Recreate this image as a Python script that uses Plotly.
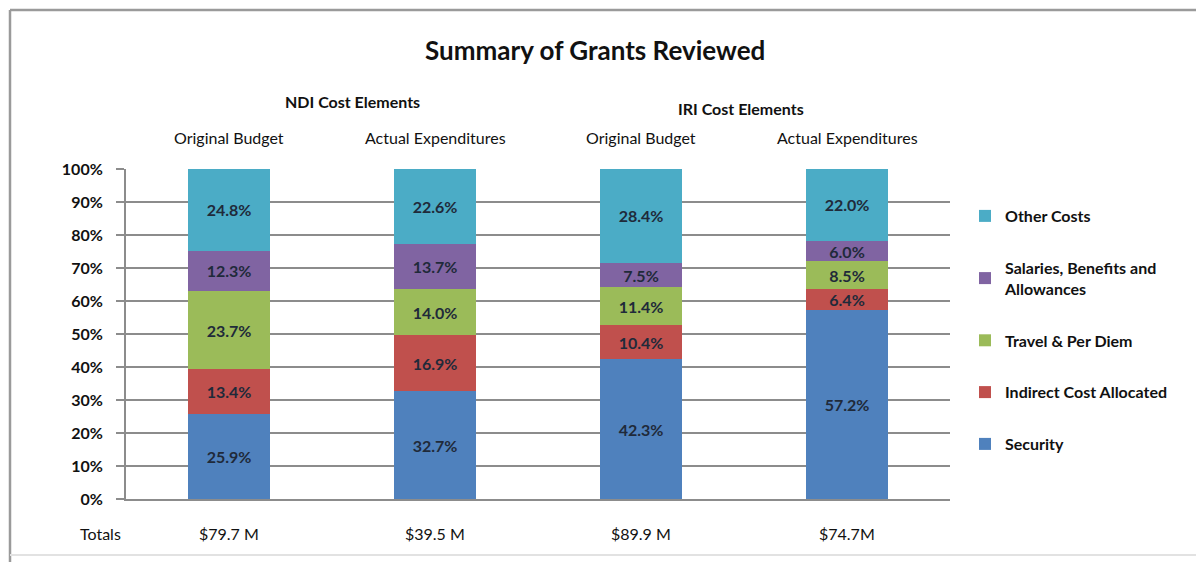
import plotly.graph_objects as go

categories = ["NDI Original Budget", "NDI Actual Expenditures", "IRI Original Budget", "IRI Actual Expenditures"]
cat_labels = ["Original Budget", "Actual Expenditures", "Original Budget", "Actual Expenditures"]
totals = ["$79.7 M", "$39.5 M", "$89.9 M", "$74.7M"]

security = [25.9, 32.7, 42.3, 57.2]
indirect = [13.4, 16.9, 10.4, 6.4]
travel = [23.7, 14.0, 11.4, 8.5]
salaries = [12.3, 13.7, 7.5, 6.0]
other = [24.8, 22.6, 28.4, 22.0]

series = [
    ("Security", security, "#4F81BD"),
    ("Indirect Cost Allocated", indirect, "#C0504D"),
    ("Travel & Per Diem", travel, "#9BBB59"),
    ("Salaries, Benefits and<br>Allowances", salaries, "#8064A2"),
    ("Other Costs", other, "#4BACC6"),
]

FONT = "Lato, Open Sans, sans-serif"

# page offset of the plotly div (body margin) is 8px
OFF = 8
PL, PR, PT, PB = 126, 950, 169, 499  # plot area in page pixels
PW, PH = PR - PL, PB - PT

def px_x(x):
    return (x - PL) / PW

def px_y(y):
    return (PB - y) / PH

fig = go.Figure()
for i, (name, vals, color) in enumerate(series):
    fig.add_trace(go.Bar(
        x=categories, y=vals, name=name, legendgroup=name,
        legendrank=len(series) - i,
        marker=dict(color=color, line=dict(width=0)),
        text=[f"{v:.1f}%" for v in vals], textposition="inside",
        insidetextanchor="middle", textangle=0,
        textfont=dict(family=FONT, size=16, color="#1f2a3a", weight="bold"),
        width=0.4,
    ))

fig.update_layout(
    barmode="stack",
    width=1204 - OFF, height=562 - OFF,
    margin=dict(l=PL - OFF, r=1204 - PR, t=PT - OFF, b=562 - PB),
    paper_bgcolor="white", plot_bgcolor="white",
    font=dict(family=FONT, size=16, color="#111"),
    uniformtext=dict(mode="show", minsize=16),
    showlegend=True,
    legend=dict(x=px_x(965), y=px_y(199), xanchor="left", yanchor="top",
                traceorder="grouped", tracegroupgap=28,
                font=dict(family=FONT, size=16, color="#111", weight="bold"),
                itemwidth=30),
    xaxis=dict(range=[-0.5, 3.5], showticklabels=False, showgrid=False,
               showline=True, linecolor="#8c8c8c", linewidth=2, ticks=""),
    yaxis=dict(range=[0, 100], dtick=10, ticksuffix="%", showgrid=True,
               gridcolor="#8c8c8c", gridwidth=1.5, showline=True, linecolor="#8c8c8c",
               linewidth=2, ticks="outside", ticklen=8, tickcolor="#8c8c8c", tickwidth=1.5,
               ticklabelstandoff=10,
               tickfont=dict(family=FONT, size=16, color="#111", weight="bold"),
               zeroline=False),
)

def ann(text, x, y, size=16, xref="paper"):
    return dict(text=text, xref=xref, yref="paper", x=x, y=px_y(y),
                xanchor="center", yanchor="middle", showarrow=False,
                font=dict(family=FONT, size=size, color="#111"))

annotations = [
    ann("<b>Summary of Grants Reviewed</b>", px_x(595), 50, size=26),
    ann("<b>NDI Cost Elements</b>", px_x(352), 101),
    ann("<b>IRI Cost Elements</b>", px_x(741), 108),
    ann("Totals", px_x(100), 533),
]
for c, lab, tot in zip(categories, cat_labels, totals):
    annotations.append(ann(lab, c, 138, xref="x"))
    annotations.append(ann(tot, c, 533, xref="x"))
fig.update_layout(annotations=annotations)

# frame around the chart
fig.add_shape(type="line", xref="paper", yref="paper",
              x0=px_x(10), x1=px_x(1204), y0=px_y(10), y1=px_y(10),
              line=dict(color="#9a9a9a", width=2.5))
fig.add_shape(type="line", xref="paper", yref="paper",
              x0=px_x(10), x1=px_x(10), y0=px_y(10), y1=px_y(562),
              line=dict(color="#9a9a9a", width=2.5))
fig.add_shape(type="line", xref="paper", yref="paper",
              x0=px_x(10), x1=px_x(1204), y0=px_y(555), y1=px_y(555),
              line=dict(color="#e2e2e2", width=2))
fig.add_shape(type="line", xref="paper", yref="paper",
              x0=px_x(1201), x1=px_x(1201), y0=px_y(10), y1=px_y(555),
              line=dict(color="#eeeeee", width=2))

fig.write_html("out.html")
